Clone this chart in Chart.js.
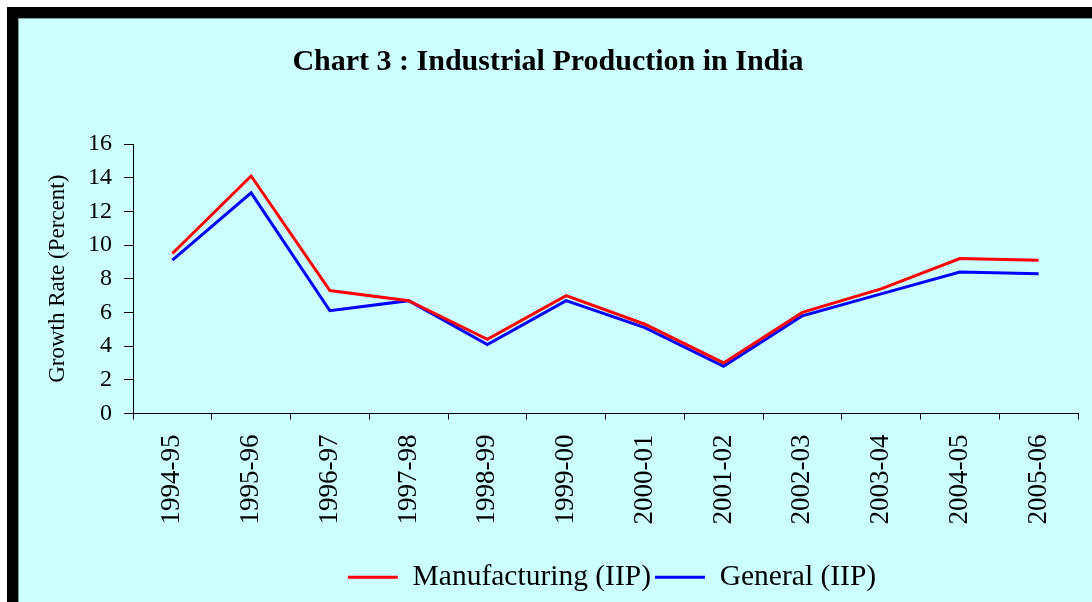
<!DOCTYPE html>
<html>
<head>
<meta charset="utf-8">
<script src="https://cdn.jsdelivr.net/npm/chart.js@4.4.1/dist/chart.umd.min.js"></script>
<style>
  html, body { margin: 0; padding: 0; background: #fff; }
  #wrap { width: 1092px; height: 602px; }
</style>
</head>
<body>
<div id="wrap"><canvas id="chart" width="1092" height="602"></canvas></div>
<script>
// data
const years = ["1994-95", "1995-96", "1996-97", "1997-98", "1998-99", "1999-00",
  "2000-01", "2001-02", "2002-03", "2003-04", "2004-05", "2005-06"];
const manufacturing = [9.5, 14.1, 7.3, 6.7, 4.4, 7.0, 5.3, 3.0, 6.0, 7.4, 9.2, 9.1];
const general = [9.1, 13.1, 6.1, 6.7, 4.1, 6.7, 5.1, 2.8, 5.8, 7.1, 8.4, 8.3];

const serif = "'Liberation Serif', 'Times New Roman', serif";

// frame: white margin, black border, cyan panel
const framePlugin = {
  id: "frame",
  afterLayout(chart) {
    // legend sits a bit right of centre in the original
    chart.legend.left += 128;
    chart.legend.adjustHitBoxes();
  },
  beforeDraw(chart) {
    const c = chart.ctx;
    const w = chart.width, h = chart.height;
    c.save();
    c.fillStyle = "#ffffff";
    c.fillRect(0, 0, w, h);
    c.fillStyle = "#000000";
    c.fillRect(7, 7, w - 7, h - 7);
    c.fillStyle = "#7f9f9f";
    c.fillRect(18, 18, w - 18, h - 18);
    c.fillStyle = "#ccffff";
    c.fillRect(19, 19, w - 19, h - 19);
    c.restore();
  }
};

new Chart(document.getElementById("chart"), {
  type: "line",
  data: {
    labels: years,
    datasets: [
      { label: "Manufacturing (IIP)", data: manufacturing, borderColor: "#ff0000",
        backgroundColor: "#ff0000", borderWidth: 3, pointRadius: 0, tension: 0 },
      { label: "General (IIP)", data: general, borderColor: "#0000ff",
        backgroundColor: "#0000ff", borderWidth: 3, pointRadius: 0, tension: 0 }
    ]
  },
  options: {
    responsive: false,
    animation: false,
    layout: { padding: { left: 18, right: 14, top: 18, bottom: 0 } },
    plugins: {
      title: {
        display: true,
        text: "Chart 3 : Industrial Production in India",
        color: "#000",
        font: { family: serif, size: 30, weight: "bold" },
        padding: { top: 26, bottom: 64 }
      },
      legend: {
        position: "bottom",
        labels: {
          color: "#000",
          font: { family: serif, size: 29.5 },
          usePointStyle: true,
          pointStyle: "line",
          pointStyleWidth: 50,
          boxHeight: 3,
          padding: 4
        }
      },
      tooltip: { enabled: false }
    },
    scales: {
      x: {
        offset: true,
        afterFit(scale) { scale.height = 145; },
        grid: { offset: true, drawOnChartArea: false, drawTicks: true, tickLength: 6, color: "#000" },
        border: { color: "#000", width: 1 },
        ticks: { color: "#000", font: { family: serif, size: 27 }, maxRotation: 90, minRotation: 90, padding: 15 }
      },
      y: {
        min: 0,
        max: 16,
        afterFit(scale) { scale.width = 115; },
        grid: { drawOnChartArea: false, drawTicks: true, tickLength: 9, color: "#000" },
        border: { color: "#000", width: 1 },
        ticks: { stepSize: 2, color: "#000", font: { family: serif, size: 24 }, padding: 12 },
        title: {
          display: true,
          text: "Growth Rate (Percent)",
          color: "#000",
          font: { family: serif, size: 23 },
          padding: { top: 26, bottom: 0 }
        }
      }
    }
  },
  plugins: [framePlugin]
});
</script>
</body>
</html>
